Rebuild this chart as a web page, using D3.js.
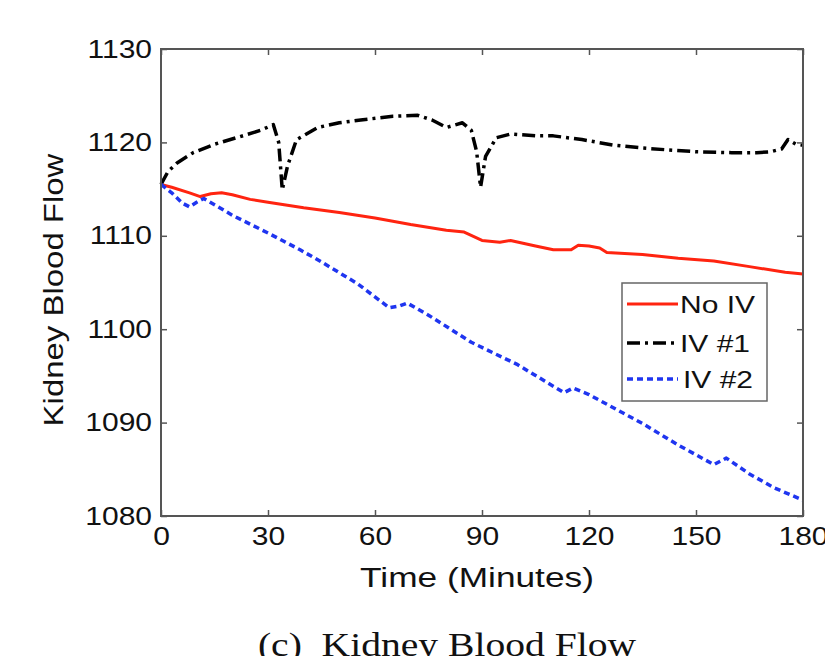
<!DOCTYPE html>
<html>
<head>
<meta charset="utf-8">
<title>Kidney Blood Flow</title>
<script src="https://d3js.org/d3.v7.min.js"></script>
<style>
  body { margin: 0; background: #fff; }
  svg { display: block; }
  text { font-family: "Liberation Sans", Arial, Helvetica, sans-serif; fill: #111; }
</style>
</head>
<body>
<svg id="chart" width="825" height="656"></svg>
<script>
// data (time in minutes, flow)
var noIVTime = [0, 3, 8, 11, 14, 17, 20, 25, 30, 40, 50, 60, 70, 80, 85, 90, 95, 98, 105, 110, 115, 117, 120, 123, 125, 135, 145, 155, 165, 175, 180];
var noIVFlow = [1115.5, 1115.2, 1114.6, 1114.2, 1114.5, 1114.6, 1114.4, 1113.9, 1113.6, 1113.0, 1112.5, 1111.9, 1111.2, 1110.6, 1110.4, 1109.5, 1109.3, 1109.5, 1108.9, 1108.5, 1108.5, 1109.0, 1108.9, 1108.7, 1108.2, 1108.0, 1107.6, 1107.3, 1106.7, 1106.1, 1105.9];

var iv1Time = [0, 2, 4.5, 9, 15, 22, 28, 31.5, 33, 34, 35.5, 38, 44, 50, 56, 65, 72, 76, 80, 84.5, 87, 88.5, 89.6, 91, 94, 98, 105, 110, 118, 127, 135, 142, 150, 160, 167, 171, 174, 175.8, 178, 180];
var iv1Flow = [1115.5, 1116.9, 1117.8, 1118.9, 1119.8, 1120.6, 1121.3, 1121.9, 1120.0, 1114.9, 1117.5, 1120.3, 1121.6, 1122.1, 1122.4, 1122.8, 1122.9, 1122.4, 1121.6, 1122.1, 1121.3, 1119.0, 1115.2, 1118.5, 1120.5, 1120.9, 1120.7, 1120.7, 1120.3, 1119.7, 1119.4, 1119.2, 1119.0, 1118.9, 1118.9, 1119.0, 1119.3, 1120.3, 1119.8, 1119.7];

var iv2Time = [0, 3, 6, 8, 10, 12, 20, 30, 39, 45, 55, 64, 67, 69, 75, 87, 100, 113, 115.5, 120, 135, 145, 155, 158.5, 165, 172, 180];
var iv2Flow = [1115.5, 1114.6, 1113.5, 1113.1, 1113.6, 1114.0, 1112.2, 1110.3, 1108.5, 1107.2, 1104.9, 1102.3, 1102.5, 1102.8, 1101.5, 1098.6, 1096.2, 1093.2, 1093.7, 1093.0, 1089.9, 1087.6, 1085.5, 1086.2, 1084.5, 1083.0, 1081.7];

var xTicks = [0, 30, 60, 90, 120, 150, 180];
var yTicks = [1080, 1090, 1100, 1110, 1120, 1130];
var seriesNames = ["No IV", "IV #1", "IV #2"];

var series = [
  { name: seriesNames[0], t: noIVTime, v: noIVFlow, color: "#ff2410", width: 3, dash: null },
  { name: seriesNames[1], t: iv1Time, v: iv1Flow, color: "#000", width: 3.5, dash: "13,5,3,5" },
  { name: seriesNames[2], t: iv2Time, v: iv2Flow, color: "#1f35f0", width: 3.5, dash: "6,4" }
];

var svg = d3.select("#chart");
var plotL = 161, plotR = 803, plotT = 49, plotB = 516;
var wide = 1.2; // the fonts in the picture run wider than Arial

var x = d3.scaleLinear().domain([0, 180]).range([plotL, plotR]);
var y = d3.scaleLinear().domain([1080, 1130]).range([plotB, plotT]);

// lines first, frame on top
var line = d3.line().x(d => x(d[0])).y(d => y(d[1]));
series.forEach(function(s) {
  var pts = s.t.map((t, i) => [t, s.v[i]]);
  svg.append("path")
    .attr("d", line(pts))
    .attr("fill", "none")
    .attr("stroke", s.color)
    .attr("stroke-width", s.width)
    .attr("stroke-dasharray", s.dash)
    .attr("stroke-linejoin", "round");
});

var axisColor = "#555";
var fmt = d3.format("d");

var xAxis = svg.append("g").attr("transform", "translate(0," + plotB + ")")
  .call(d3.axisBottom(x).tickValues(xTicks).tickFormat(fmt).tickSizeInner(-6).tickSizeOuter(0).tickPadding(11));
var yAxis = svg.append("g").attr("transform", "translate(" + plotL + ",0)")
  .call(d3.axisLeft(y).tickValues(yTicks).tickFormat(fmt).tickSizeInner(-6).tickSizeOuter(0).tickPadding(9));
svg.append("g").attr("transform", "translate(0," + plotT + ")")
  .call(d3.axisTop(x).tickValues(xTicks).tickSizeInner(-6).tickSizeOuter(0).tickFormat(""));
svg.append("g").attr("transform", "translate(" + plotR + ",0)")
  .call(d3.axisRight(y).tickValues(yTicks).tickSizeInner(-6).tickSizeOuter(0).tickFormat(""));

svg.selectAll(".domain").remove();
svg.selectAll(".tick line").attr("stroke", axisColor).attr("stroke-width", 1.5);
svg.selectAll(".tick text").style("font-size", "25px").attr("fill", "#111")
  .attr("font-family", "Liberation Sans, Arial, sans-serif");
xAxis.selectAll(".tick text").attr("transform", "scale(" + wide + ",1)");
yAxis.selectAll(".tick text").attr("x", -9 / wide).attr("transform", "scale(" + wide + ",1)");

svg.append("rect")
  .attr("x", plotL).attr("y", plotT)
  .attr("width", plotR - plotL).attr("height", plotB - plotT)
  .attr("fill", "none").attr("stroke", axisColor).attr("stroke-width", 2);

// axis titles
svg.append("text")
  .attr("transform", "translate(477,587) scale(1.26,1)")
  .attr("text-anchor", "middle")
  .style("font-size", "28px")
  .text("Time (Minutes)");

svg.append("text")
  .attr("transform", "translate(63,290) rotate(-90) scale(1.22,1)")
  .attr("text-anchor", "middle")
  .style("font-size", "27px")
  .text("Kidney Blood Flow");

// caption under the plot
svg.append("text")
  .attr("transform", "translate(447,656) scale(1.2,1)")
  .attr("text-anchor", "middle")
  .style("font-family", "Liberation Serif, Times New Roman, serif")
  .style("font-size", "33px")
  .text("(c)\u00a0\u00a0Kidney Blood Flow");

// legend
var legend = svg.append("g");
legend.append("rect")
  .attr("x", 622).attr("y", 283).attr("width", 145).attr("height", 118)
  .attr("fill", "#fff").attr("stroke", "#666").attr("stroke-width", 1.5);
var rowY = [304, 343, 379];
series.forEach(function(s, i) {
  legend.append("line")
    .attr("x1", 627).attr("x2", 678)
    .attr("y1", rowY[i]).attr("y2", rowY[i])
    .attr("stroke", s.color)
    .attr("stroke-width", s.width)
    .attr("stroke-dasharray", s.dash);
  legend.append("text")
    .attr("transform", "translate(" + (i == 2 ? 683 : 680) + "," + (rowY[i] + 9) + ") scale(1.25,1)")
    .style("font-size", "24px")
    .text(s.name);
});
</script>
</body>
</html>
